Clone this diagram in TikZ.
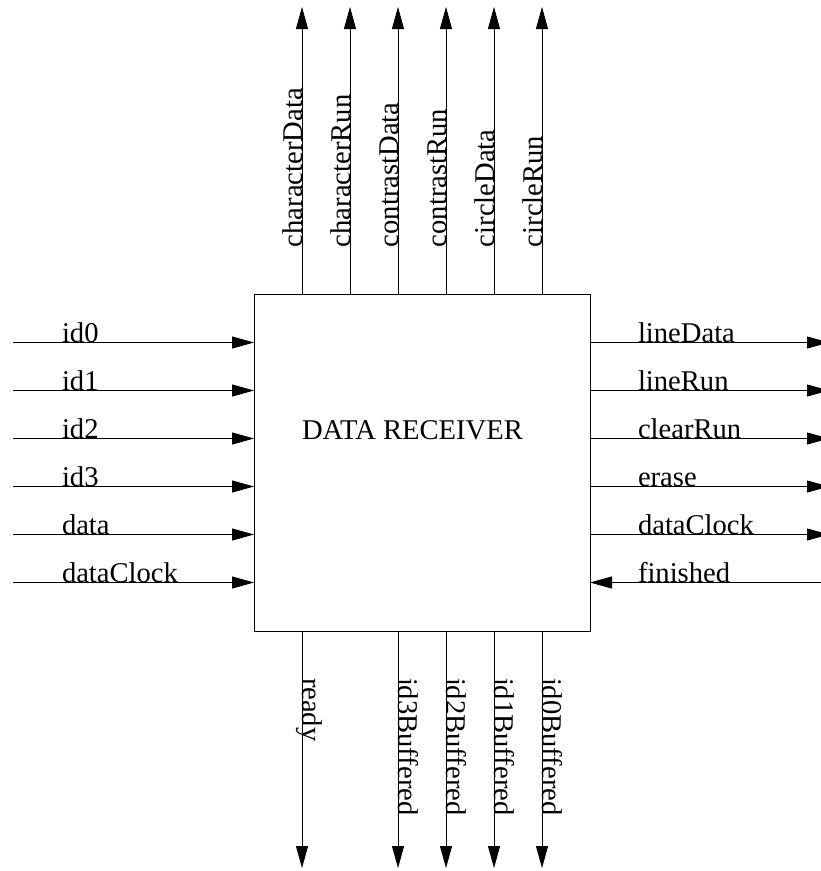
\documentclass[tikz,border=0pt]{standalone}
\usepackage{fontspec}
\setmainfont{Liberation Serif}
\usetikzlibrary{arrows.meta}
\tikzset{
  sig/.style={line width=0.8pt, -{Triangle[length=22pt,width=12pt]}},
  lab/.style={inner sep=0pt, outer sep=0pt, font=\fontsize{28.6}{34}\selectfont},
  block/.style={draw, line width=0.8pt, rectangle, inner sep=0pt, outer sep=0pt,
                minimum width=336pt, minimum height=337pt}
}
\begin{document}
\begin{tikzpicture}[x=1pt,y=-1pt]
  \clip (0,0) rectangle (821,871);

  % the receiver block
  \node[block] (box) at (422,462.5) {};
  \node[lab, anchor=base west] (title) at (302,439) {DATA RECEIVER};

  % inputs on the left
  \foreach \i/\y/\t in {0/342.5/id0, 1/390.5/id1, 2/438.5/id2, 3/486.5/id3,
                        4/534.5/data, 5/582.5/dataClock} {
    \coordinate (in\i) at (13,\y);
    \draw[sig] (in\i) -- (in\i -| box.west);
    \node[lab, anchor=base west] (inlab\i) at (62,\y) {\t};
  }

  % outputs on the right
  \foreach \i/\y/\t in {0/342.5/lineData, 1/390.5/lineRun, 2/438.5/clearRun,
                        3/486.5/erase, 4/534.5/dataClock} {
    \coordinate (out\i) at (829,\y);
    \draw[sig] (out\i -| box.east) -- (out\i);
    \node[lab, anchor=base west] (outlab\i) at (638,\y) {\t};
  }

  % finished comes back into the block
  \coordinate (fin) at (822,582.5);
  \draw[sig] (fin) -- (fin -| box.east);
  \node[lab, anchor=base west] (finlab) at (638,582.5) {finished};

  % outputs at the top
  \foreach \i/\x/\t in {0/302/characterData, 1/350/characterRun,
                        2/398/contrastData, 3/446/contrastRun,
                        4/494/circleData, 5/542/circleRun} {
    \coordinate (top\i) at (\x,7);
    \draw[sig] (box.north -| top\i) -- (top\i);
    \node[lab, rotate=90, anchor=base west] (toplab\i) at (\x,247) {\t};
  }

  % outputs at the bottom
  \foreach \i/\x/\t in {0/302/ready, 1/398/id3Buffered, 2/446/id2Buffered,
                        3/494/id1Buffered, 4/542/id0Buffered} {
    \coordinate (bot\i) at (\x,868);
    \draw[sig] (box.south -| bot\i) -- (bot\i);
    \node[lab, rotate=-90, anchor=base west] (botlab\i) at (\x,678) {\t};
  }
\end{tikzpicture}
\end{document}
